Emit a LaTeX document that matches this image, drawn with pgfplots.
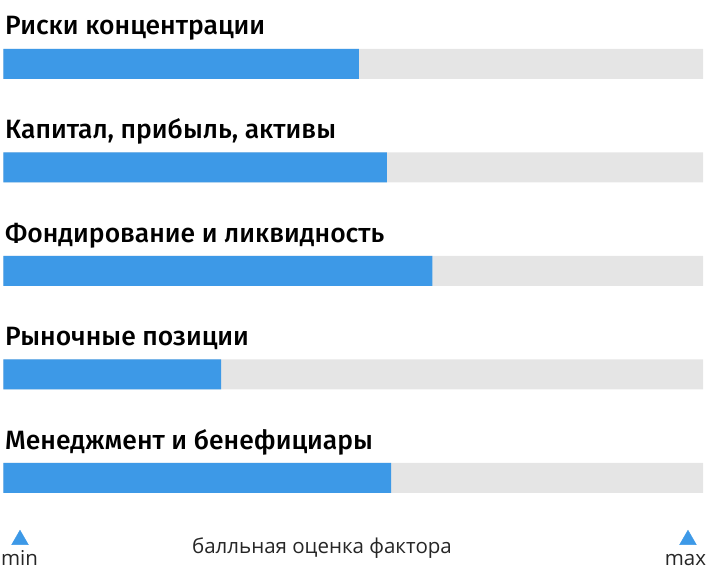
\documentclass[border=0pt]{standalone}
\usepackage{pgfplots}
\pgfplotsset{compat=1.18}
\usepackage{fontspec}
\setmainfont{Open Sans}
\newfontfamily\labfont{Fira Sans Medium}
\definecolor{barblue}{HTML}{3D99E7}
\definecolor{bargrey}{HTML}{E5E5E5}
\tikzset{
  lab/.style={anchor=base west, inner sep=0pt, font=\labfont\fontsize{26.5pt}{28pt}\selectfont},
  bot/.style={anchor=base, inner sep=0pt, font=\fontsize{20.5pt}{22pt}\selectfont, text=black!85},
}
\begin{document}
\begin{tikzpicture}
\useasboundingbox (0,0) rectangle (707pt,-576pt);
\begin{axis}[
  at={(0pt,0pt)}, anchor=north west,
  scale only axis, width=707pt, height=576pt,
  axis lines=none,
  xmin=-0.5, xmax=100.57,
  ymin=-0.618, ymax=4.947, y dir=reverse,
  clip=false,
]
\addplot[xbar, bar width=30pt, bar shift=0pt, fill=bargrey, draw=none] coordinates {
  (100,0) (100,1) (100,2) (100,3) (100,4)};
\addplot[xbar, bar width=30pt, bar shift=0pt, fill=barblue, draw=none] coordinates {
  (50.8,0) (54.8,1) (61.3,2) (31.1,3) (55.4,4)};
\addplot[only marks, mark=triangle*, mark size=9.6pt, color=barblue] coordinates {
  (2.36,4.597) (97.85,4.597)};
\node[lab] at (axis cs:0.21,-0.28) {Риски концентрации};
\node[lab] at (axis cs:0.21,0.72) {Капитал, прибыль, активы};
\node[lab] at (axis cs:0.21,1.72) {Фондирование и ликвидность};
\node[lab] at (axis cs:0.21,2.72) {Рыночные позиции};
\node[lab] at (axis cs:0.21,3.72) {Менеджмент и бенефициары};
\node[bot] at (axis cs:45.53,4.725) {балльная оценка фактора};
\node[bot] at (axis cs:2.29,4.841) {min};
\node[bot] at (axis cs:97.5,4.841) {max};
\end{axis}
\end{tikzpicture}
\end{document}
